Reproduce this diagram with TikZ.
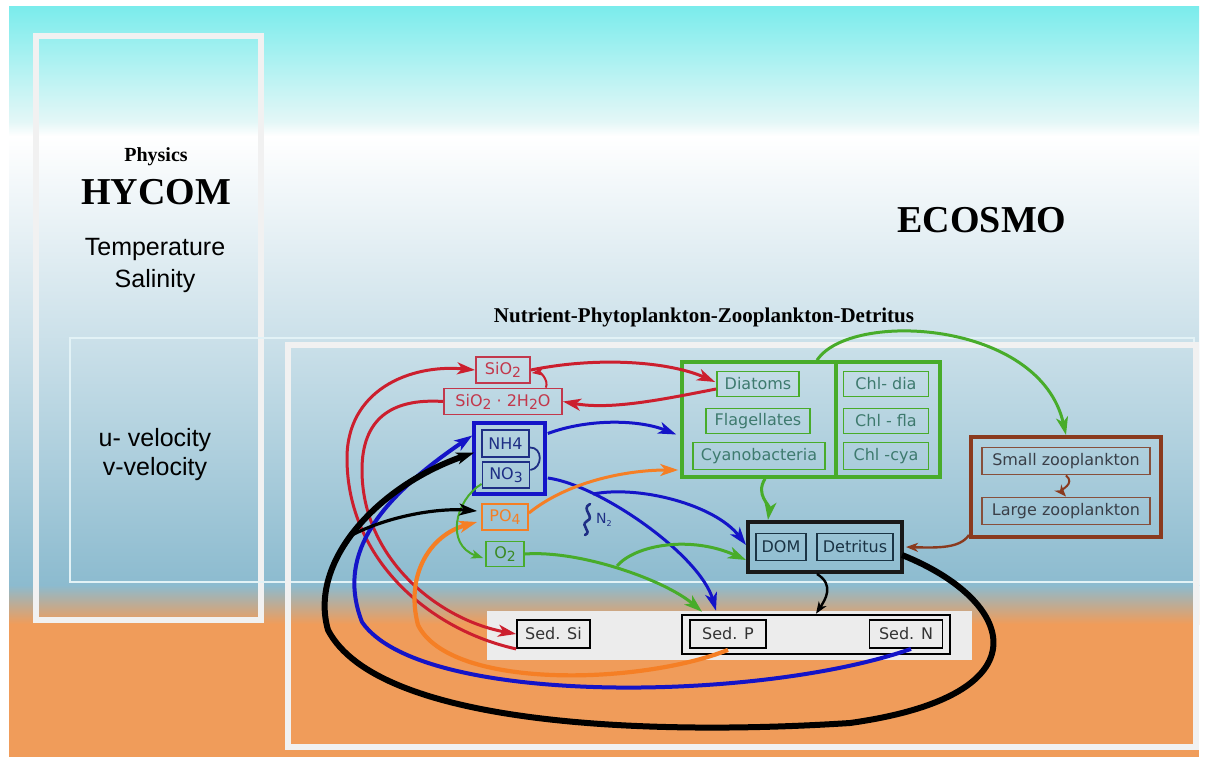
\documentclass[tikz,border=0pt]{standalone}
\usepackage{fontspec}
\setmainfont{Liberation Serif}
\newfontfamily\arialf{Liberation Sans}
\newfontfamily\dvs{DejaVu Sans}
\usetikzlibrary{arrows.meta}
\definecolor{cyantop}{HTML}{7BECEC}
\definecolor{palecy}{HTML}{E4F7F7}
\definecolor{steel}{HTML}{8CBBCF}
\definecolor{orbg}{HTML}{F09C5A}
\definecolor{framec}{HTML}{F1F1F1}
\definecolor{thinc}{HTML}{E2F2F6}
\definecolor{redc}{HTML}{CC1F2E}
\definecolor{redbox}{HTML}{C2384C}
\definecolor{bluec}{HTML}{1414C8}
\definecolor{navy}{HTML}{1E2E85}
\definecolor{orangec}{HTML}{F57F25}
\definecolor{greenc}{HTML}{48AC2A}
\definecolor{greentext}{HTML}{3E7A6E}
\definecolor{brownc}{HTML}{8A3A1E}
\definecolor{zootext}{HTML}{3A3F48}
\definecolor{dettext}{HTML}{1A3344}
\definecolor{sedgray}{HTML}{ECECEC}
\newcommand{\lowsub}[1]{\raisebox{-3pt}{\fontsize{14}{14}\selectfont #1}}
\tikzset{
  nbx/.style={draw, line width=1.8pt, inner sep=0pt, minimum height=26, font=\dvs\fontsize{16}{18}\selectfont},
  grp/.style={draw, line width=3.5pt, inner sep=0pt},
  arw/.style={-{Stealth[length=18pt,width=12pt,inset=5pt]}, line width=3pt},
  arws/.style={-{Stealth[length=12pt,width=9pt,inset=3.5pt]}, line width=2pt},
  lbl/.style={inner sep=0pt, align=center},
}
\begin{document}
\begin{tikzpicture}[x=1pt,y=-1pt]
\useasboundingbox (0,0) rectangle (1208,760);
% background
\fill[white] (0,0) rectangle (1208,760);
\shade[top color=cyantop, bottom color=palecy] (9,7) rectangle (1199,122);
\shade[top color=palecy, bottom color=white] (9,122) rectangle (1199,136);
\shade[top color=white, bottom color=steel] (9,136) rectangle (1199,585);
\shade[top color=steel, bottom color=orbg] (9,585) rectangle (1199,624);
\fill[orbg] (9,624) rectangle (1199,757);
% frames
\draw[framec, line width=6pt] (36,36) rectangle (261,620);
\draw[thinc, line width=2pt] (70,338) rectangle (1194,582);
\draw[framec, line width=6pt] (288,345) rectangle (1196,747);
% texts
\node[lbl, font=\bfseries\fontsize{20}{20}\selectfont] (phys) at (156,157) {Physics};
\node[lbl, font=\bfseries\fontsize{38}{38}\selectfont] (hycom) at (156,192) {HYCOM};
\node[lbl, font=\arialf\fontsize{25}{25}\selectfont] (temp) at (155,249) {Temperature};
\node[lbl, font=\arialf\fontsize{25}{25}\selectfont] (sal) at (155,281) {Salinity};
\node[lbl, font=\arialf\fontsize{25}{25}\selectfont] (uvel) at (155,440) {u- velocity};
\node[lbl, font=\arialf\fontsize{25}{25}\selectfont] (vvel) at (155,469) {v-velocity};
\node[lbl, font=\bfseries\fontsize{38}{38}\selectfont] (ecosmo) at (982,220) {ECOSMO};
\node[lbl, font=\bfseries\fontsize{21}{21}\selectfont] (npzd) at (704,317) {Nutrient-Phytoplankton-Zooplankton-Detritus};
% sediment panel
\node[fill=sedgray, minimum width=485, minimum height=49, inner sep=0pt] (sedpanel) at (729.5,635.5) {};
\node[draw=black, line width=2.5pt, minimum width=268, minimum height=39, inner sep=0pt] (sedframe) at (816,634.5) {};
\node[nbx, draw=black, text=black!80, minimum width=73, minimum height=28] (sedsi) at (553.5,634) {Sed. Si};
\node[nbx, draw=black, text=black!80, minimum width=76, minimum height=28] (sedp) at (728,634) {Sed. P};
\node[nbx, draw=black, text=black!80, minimum width=73, minimum height=28] (sedn) at (906,634) {Sed. N};
% nutrients
\node[nbx, draw=redbox, text=redbox, minimum width=54] (sio2) at (503,370) {SiO\lowsub{2}};
\node[nbx, draw=redbox, text=redbox, minimum width=118] (sioh) at (503,401.5) {SiO\lowsub{2} · 2H\lowsub{2}O};
\node[grp, draw=bluec, minimum width=71, minimum height=71] (nbox) at (509.5,458.5) {};
\node[nbx, draw=navy, text=navy, minimum width=47, minimum height=27] (nh4) at (505.5,443.5) {NH4};
\node[nbx, draw=navy, text=navy, minimum width=47] (no3) at (506,475) {NO\lowsub{3}};
\node[nbx, draw=orangec, text=orangec, minimum width=46] (po4) at (505,517) {PO\lowsub{4}};
\node[nbx, draw=greenc, text=greenc!80!black, minimum width=38, minimum height=25] (o2) at (505,554) {O\lowsub{2}};
% phytoplankton
\node[grp, draw=greenc, minimum width=258, minimum height=115] (phy) at (811,419.5) {};
\draw[greenc, line width=3.5pt] (phy.north) ++(25,0) coordinate (divt) -- (divt |- phy.south);
\node[nbx, draw=greenc, text=greentext, minimum width=82, minimum height=25] (diat) at (758,384) {Diatoms};
\node[nbx, draw=greenc, text=greentext, minimum width=104, minimum height=25] (flag) at (758,421) {Flagellates};
\node[nbx, draw=greenc, text=greentext, minimum width=132, minimum height=27] (cyan) at (759,456) {Cyanobacteria};
\node[nbx, draw=greenc, text=greentext, minimum width=85, minimum height=25] (chla) at (886,384) {Chl- dia};
\node[nbx, draw=greenc, text=greentext, minimum width=85, minimum height=25] (chlf) at (886,421) {Chl - fla};
\node[nbx, draw=greenc, text=greentext, minimum width=85, minimum height=27] (chlc) at (886,456) {Chl -cya};
% zooplankton
\node[grp, draw=brownc, line width=4pt, minimum width=190, minimum height=100] (zoo) at (1066,487) {};
\node[nbx, draw=brownc!70!gray, text=zootext, minimum width=168, minimum height=27] (small) at (1066,461) {Small zooplankton};
\node[nbx, draw=brownc!70!gray, text=zootext, minimum width=168, minimum height=27] (large) at (1066,511) {Large zooplankton};
% detritus
\node[grp, draw=black!90, line width=4pt, minimum width=154, minimum height=50] (det) at (825,547) {};
\node[nbx, draw=dettext, text=dettext, minimum width=50, minimum height=27] (dom) at (781,547) {DOM};
\node[nbx, draw=dettext, text=dettext, minimum width=76, minimum height=27] (detr) at (855,547) {Detritus};
% N2 symbol
\draw[navy, line width=2.6pt, line cap=round] (590,504) .. controls (580,509) and (596,517) .. (587,521) .. controls (579,526) and (593,531) .. (585,535);
\node[lbl, text=navy, font=\dvs\fontsize{14}{14}\selectfont] (n2lbl) at (604,520) {N\raisebox{-3pt}{\fontsize{8}{8}\selectfont 2}};
% ---------------- connectors
% red
\draw[arw, redc] (sio2.east) .. controls (600,356) and (670,362) .. ([shift={(-1,-2)}]diat.west);
\draw[arw, redc] ([shift={(0,5)}]diat.west) .. controls (660,400) and (610,410) .. (sioh.east);
\draw[arws, redc] ([shift={(-17,0)}]sioh.north east) .. controls (549,380) and (540,372) .. ([shift={(1,3)}]sio2.east);
\draw[arw, redc] (sedsi.south west) .. controls (430,630) and (348,560) .. (347,460) .. controls (346,390) and (410,364) .. (sio2.west);
\draw[arw, redc] (sioh.west) .. controls (390,398) and (362,420) .. (362,470) .. controls (362,560) and (440,620) .. (sedsi.west);
% blue
\draw[arw, bluec] ([shift={(1,-25)}]nbox.east) .. controls (590,418) and (640,420) .. ([shift={(-4,15)}]phy.west);
\draw[arw, bluec] ([shift={(1,19.5)}]nbox.east) .. controls (600,485) and (700,555) .. ([shift={(-12,-3)}]sedframe.north -| sedp.north);
\coordinate (n2s) at (593,494);
\draw[arw, bluec] (n2s) .. controls (640,485) and (715,505) .. ([shift={(0,-2)}]det.west);
\draw[arw, bluec, line width=4pt] ([shift={(5,0)}]sedn.south) .. controls (760,702) and (420,707) .. (362,622) .. controls (338,560) and (370,505) .. ([shift={(0,-23)}]nbox.west);
% orange
\draw[arw, orangec] ([shift={(0,-4)}]po4.east) .. controls (570,480) and (630,470) .. ([shift={(-2,50.5)}]phy.west);
\draw[arw, orangec, line width=4.2pt] ([shift={(0,1)}]sedp.south) .. controls (640,685) and (450,690) .. (418,625) .. controls (405,575) and (430,535) .. ([shift={(-4,5)}]po4.west);
% green
\draw[arws, greenc] ([shift={(0,-5)}]no3.south west) .. controls (455,500) and (445,545) .. ([shift={(-2,4)}]o2.west);
\draw[arw, greenc] (o2.east) .. controls (580,550) and (665,580) .. ([shift={(-26,-2)}]sedframe.north -| sedp.north);
\coordinate (o2br) at (617,566);
\draw[arw, greenc] (o2br) .. controls (635,545) and (690,535) .. ([shift={(0,13)}]det.west);
\draw[arw, greenc] ([shift={(-46,0)}]phy.south) .. controls (755,495) and (770,505) .. ([shift={(-57,0)}]det.north);
\draw[arw, greenc] ([shift={(6,0)}]phy.north) .. controls (850,310) and (1040,320) .. (zoo.north);
% brown
\draw[arws, brownc] (small.south) .. controls (1076,484) and (1060,490) .. (large.north);
\draw[arws, brownc, line width=2.4pt] ([shift={(0,-4)}]zoo.south west) .. controls (960,548) and (940,548) .. ([shift={(2,0)}]det.east);
% black
\draw[arws, black, line width=2.4pt] ([shift={(-8,0)}]det.south) .. controls (835,585) and (825,600) .. (sedframe.north);
\draw[arw, black, line width=6pt] ([shift={(-2,8)}]det.east) .. controls (1015,600) and (1050,695) .. (850,723) .. controls (650,736) and (378,726) .. (328,630) .. controls (308,560) and (380,485) .. ([shift={(2,-6)}]nbox.west);
\coordinate (kbr) at (350,536);
\draw[arw, black, line width=3.2pt] (kbr) .. controls (390,515) and (440,508) .. ([shift={(-4,-6)}]po4.west);
% NH4 - NO3 loop
\draw[navy, line width=1.8pt] ([shift={(0,4)}]nh4.east) .. controls (543,447) and (543,468) .. ([shift={(0,-5)}]no3.east);
\end{tikzpicture}
\end{document}
